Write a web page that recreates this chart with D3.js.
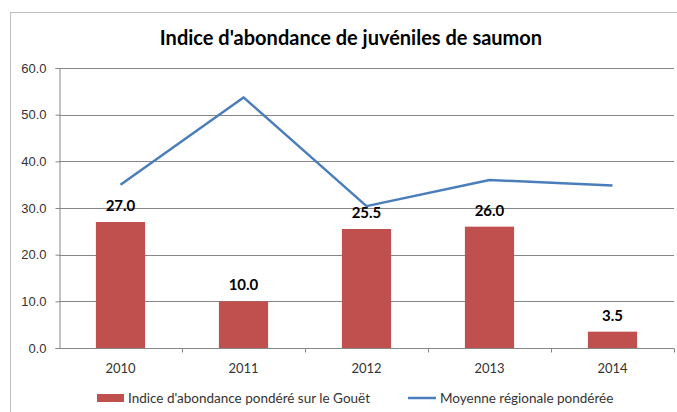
<!DOCTYPE html>
<html>
<head>
<meta charset="utf-8">
<script src="https://cdn.jsdelivr.net/npm/d3@7"></script>
<style>
  body { margin: 0; background: #fff; }
  svg { display: block; font-family: Lato, "Open Sans", sans-serif; }
</style>
</head>
<body>
<div class="chart"></div>
<script>
const years = ["2010", "2011", "2012", "2013", "2014"];
const gouetValues = [27.0, 10.0, 25.5, 26.0, 3.5];
const regionalValues = [35.0, 53.7, 30.4, 36.0, 34.8];
const yTicks = [0, 10, 20, 30, 40, 50, 60];
const chartTitle = "Indice d'abondance de juvéniles de saumon";
const seriesNames = ["Indice d'abondance pondéré sur le Gouët", "Moyenne régionale pondérée"];

const width = 677, height = 412;
const margin = {left: 59, right: 3, top: 68, bottom: 64};
const barColor = "#C0504D", lineColor = "#4A7EBB";

const svg = d3.select("div.chart").append("svg")
    .attr("width", width)
    .attr("height", height);

// outer chart frame (only top and left edges are visible in the frame)
svg.append("rect")
    .attr("x", 10.5).attr("y", 12.5)
    .attr("width", 700).attr("height", 420)
    .attr("fill", "none")
    .attr("stroke", "#bfbfbf");

const x = d3.scaleBand()
    .domain(years)
    .range([margin.left, width - margin.right])
    .paddingInner(0.6).paddingOuter(0.3);

const xOuter = d3.scaleBand()
    .domain(years)
    .range([margin.left, width - margin.right]);

const y = d3.scaleLinear()
    .domain([0, 60])
    .range([height - margin.bottom, margin.top]);

// gridlines
svg.append("g")
  .selectAll("line")
  .data(yTicks.filter(d => d > 0))
  .join("line")
    .attr("x1", margin.left).attr("x2", width - margin.right)
    .attr("y1", d => Math.round(y(d)) + 0.5).attr("y2", d => Math.round(y(d)) + 0.5)
    .attr("stroke", "#868686");

// y axis
const yAxis = svg.append("g")
    .attr("transform", `translate(${margin.left + 0.5},0)`)
    .call(d3.axisLeft(y).tickValues(yTicks).tickFormat(d3.format(".1f")).tickSize(4).tickPadding(9));
yAxis.select(".domain").attr("stroke", "#868686");
yAxis.selectAll(".tick line").attr("stroke", "#868686");
yAxis.selectAll("text").attr("font-size", 13).attr("fill", "#333");

// bars
svg.append("g")
  .selectAll("rect")
  .data(gouetValues)
  .join("rect")
    .attr("x", (d, i) => x(years[i]))
    .attr("width", x.bandwidth())
    .attr("y", d => y(d))
    .attr("height", d => y(0) - y(d))
    .attr("fill", barColor);

// bar value labels
svg.append("g")
  .selectAll("text")
  .data(gouetValues)
  .join("text")
    .attr("x", (d, i) => x(years[i]) + x.bandwidth() / 2)
    .attr("y", d => y(d) - 11)
    .attr("text-anchor", "middle")
    .attr("font-size", 15)
    .attr("font-weight", "bold")
    .attr("fill", "#000")
    .text(d => d3.format(".1f")(d));

// x axis
const xAxis = svg.append("g")
    .attr("transform", `translate(0,${Math.round(y(0)) + 0.5})`);
xAxis.append("line")
    .attr("x1", margin.left).attr("x2", width - margin.right)
    .attr("stroke", "#868686");
xAxis.selectAll(".tk")
  .data(years)
  .join("line")
    .attr("class", "tk")
    .attr("x1", d => Math.round(xOuter(d) + xOuter.bandwidth()) + 0.5)
    .attr("x2", d => Math.round(xOuter(d) + xOuter.bandwidth()) + 0.5)
    .attr("y1", 0).attr("y2", 4)
    .attr("stroke", "#868686");
xAxis.selectAll("text")
  .data(years)
  .join("text")
    .attr("x", d => xOuter(d) + xOuter.bandwidth() / 2)
    .attr("y", 24)
    .attr("text-anchor", "middle")
    .attr("font-size", 13)
    .attr("fill", "#333")
    .text(d => d);

// regional line
const line = d3.line()
    .x((d, i) => xOuter(years[i]) + xOuter.bandwidth() / 2)
    .y(d => y(d));
svg.append("path")
    .datum(regionalValues)
    .attr("d", line)
    .attr("fill", "none")
    .attr("stroke", lineColor)
    .attr("stroke-width", 2.5)
    .attr("stroke-linejoin", "round");

// title
svg.append("text")
    .attr("x", 351).attr("y", 45)
    .attr("text-anchor", "middle")
    .attr("font-size", 20)
    .attr("font-weight", "bold")
    .attr("fill", "#000")
    .text(chartTitle);

// legend
const legend = svg.append("g").attr("transform", "translate(0,398)");
legend.append("rect")
    .attr("x", 97).attr("y", -4)
    .attr("width", 27).attr("height", 8)
    .attr("fill", barColor);
legend.append("text")
    .attr("x", 128).attr("y", 5)
    .attr("font-size", 13.5).attr("fill", "#333")
    .text(seriesNames[0]);
legend.append("line")
    .attr("x1", 408).attr("x2", 436)
    .attr("stroke", lineColor).attr("stroke-width", 2.5);
legend.append("text")
    .attr("x", 440).attr("y", 5)
    .attr("font-size", 13.5).attr("fill", "#333")
    .text(seriesNames[1]);
</script>
</body>
</html>
